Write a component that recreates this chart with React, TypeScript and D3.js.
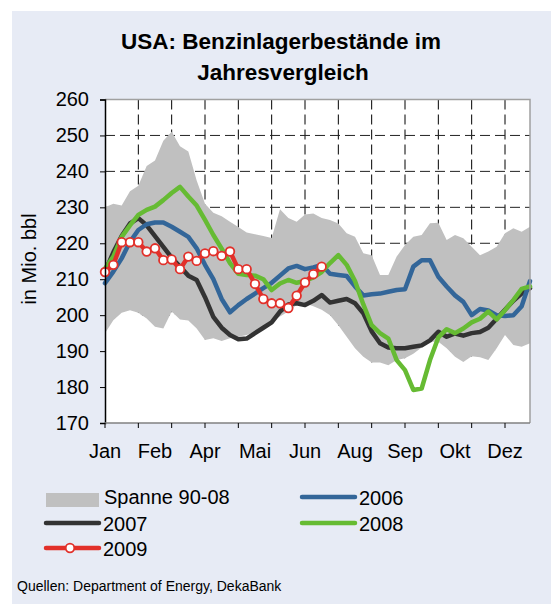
import { useEffect, useRef } from "react";
import * as d3 from "d3";

const W = 551;
const H = 604;

// weekly points, 52 per year
const MONTHS = ["Jan", "Feb", "Apr", "Mai", "Jun", "Aug", "Sep", "Okt", "Dez"];
const Y_TICKS = [170, 180, 190, 200, 210, 220, 230, 240, 250, 260];

const RANGE_LOW = [
  195, 198.6, 200.7, 201.4, 200.7, 199.1, 196.8, 196.3, 201, 198.8, 198.5, 196.3, 193.1, 193.6, 192.8, 193.6,
  194, 194.5, 195.4, 196.8, 198.2, 199.6, 201, 202.8, 203.3, 202.5, 201.5, 200, 197.2, 194, 190.8, 188.4,
  186.8, 186.8, 186.1, 187.5, 188, 189.3, 191, 192.6, 192.6, 190.8, 188.4, 187, 188.6, 188.3, 187.5, 190.8,
  194.5, 191.7, 191.2, 192.2,
];
const RANGE_HIGH = [
  230, 231, 230.5, 234.5, 236, 241.5, 243, 248.5, 251, 247, 245.5, 237.5, 231, 228.5, 227.5, 226,
  224.5, 223, 222.5, 222, 221.5, 229.5, 227, 226, 228, 228.3, 227, 226.5, 225.5, 222.8, 221.8, 217.2,
  216.7, 211.2, 211.2, 216.3, 219.5, 221.8, 222.3, 225.6, 225.7, 220.9, 222.3, 221.4, 219, 216.7, 217.7, 219,
  222.8, 224.2, 223.2, 224.6,
];
const S2006 = [
  208.9, 212.1, 215.8, 220.4, 223.7, 225.3, 225.8, 225.8, 224.6, 223.2, 221.8, 218.6, 214, 210, 204.5, 200.8,
  202.8, 204.5, 206, 207.5, 209, 211, 213, 213.7, 212.8, 213.3, 214, 211.5, 211.2, 210.9, 208, 205.5,
  205.8, 206, 206.5, 207, 207.2, 213.5, 215.3, 215.3, 210.7, 208, 205.5, 203.7, 200, 201.7, 201.3, 200,
  199.8, 200, 202.5, 209.5,
];
const S2007 = [
  212, 217.5, 222, 225.5, 227, 225, 222, 219, 216, 213.5, 211, 209.8, 205, 199.5, 196.5, 194.5,
  193.3, 193.5, 195, 196.5, 198, 201, 203, 203.3, 202.8, 204, 205.6, 203.5, 204, 204.5, 203.3, 200.5,
  195.5, 192.2, 191, 190.8, 190.8, 191.2, 191.6, 193, 195.4, 194, 194.9, 194.3, 195, 195.3, 196.5, 199,
  201.5, 204, 206, 207.5,
];
const S2008 = [
  213, 216.3, 221.8, 225, 227.9, 229.3, 230.2, 232, 234, 235.7, 233, 230.5, 226.5, 222.3, 218.5, 214.5,
  211.5, 211.2, 211, 210, 207, 208.8, 209.8, 209, 209.5, 210.5, 212, 214.5, 216.7, 214, 209.5, 203,
  197.2, 195, 193.5, 187.5, 184.7, 179.2, 179.6, 187.5, 193.8, 196.1, 195, 196.3, 198, 199, 201, 198.8,
  201.4, 204.2, 207.3, 208,
];
const S2009 = [
  212, 214, 220.3, 220.3, 220.3, 217.7, 218.6, 215.3, 215.5, 212.8, 216.3, 215.1, 217.2, 217.8, 216.5, 217.7,
  212.8, 212.8, 208.7, 204.5, 203.3, 203.3, 202, 205.4, 209.1, 211.4, 213.5,
];

const C = {
  bg: "#E7EBF5",
  band: "#C0C0C0",
  y2006: "#336699",
  y2007: "#333333",
  y2008: "#66BB33",
  y2009: "#E2302A",
};

const FONT = "'Liberation Sans', Arial, sans-serif";

export default function App() {
  const ref = useRef<SVGSVGElement | null>(null);

  useEffect(() => {
    const svg = d3.select(ref.current);
    svg.selectAll("*").remove();

    const m = { left: 105, right: 530, top: 99.5, bottom: 423 };
    const n = RANGE_LOW.length;
    const x = d3.scaleLinear().domain([0, n - 1]).range([m.left, m.right]);
    const y = d3.scaleLinear().domain([170, 260]).range([m.bottom, m.top]);

    svg.append("rect").attr("x", 12).attr("y", 11).attr("width", W - 12).attr("height", H - 11).attr("fill", C.bg);

    // title
    const title = svg.append("text").attr("font-family", FONT).attr("font-weight", "bold").attr("font-size", 22.5)
      .attr("text-anchor", "middle").attr("fill", "#000");
    title.append("tspan").attr("x", 281).attr("y", 49).text("USA: Benzinlagerbestände im");
    title.append("tspan").attr("x", 283).attr("y", 80).text("Jahresvergleich");

    const g = svg.append("g");
    g.append("rect").attr("x", m.left).attr("y", m.top).attr("width", m.right - m.left).attr("height", m.bottom - m.top).attr("fill", "#fff");

    // grid
    const xTicks = d3.range(0, n - 1, 4);
    g.append("g").selectAll("line").data(xTicks.slice(1)).join("line")
      .attr("x1", (d) => x(d)).attr("x2", (d) => x(d)).attr("y1", m.top).attr("y2", m.bottom)
      .attr("stroke", "#000").attr("stroke-width", 1).attr("stroke-dasharray", "10 5");
    g.append("g").selectAll("line").data(Y_TICKS.slice(1, -1)).join("line")
      .attr("x1", m.left).attr("x2", m.right).attr("y1", (d) => y(d)).attr("y2", (d) => y(d))
      .attr("stroke", "#222").attr("stroke-width", 1).attr("stroke-dasharray", "10 5");

    // range band: white below, grey between
    const idx = d3.range(n);
    g.append("path")
      .attr("d", d3.area<number>().x((i) => x(i)).y0(y(170)).y1((i) => y(RANGE_LOW[i]))(idx)!)
      .attr("fill", "#fff");
    g.append("path")
      .attr("d", d3.area<number>().x((i) => x(i)).y0((i) => y(RANGE_LOW[i])).y1((i) => y(RANGE_HIGH[i]))(idx)!)
      .attr("fill", C.band);

    const line = d3.line<number>().x((_, i) => x(i)).y((v) => y(v));
    const series: [number[], string][] = [
      [S2007, C.y2007],
      [S2006, C.y2006],
      [S2008, C.y2008],
      [S2009, C.y2009],
    ];
    series.forEach(([vals, color]) => {
      g.append("path").attr("d", line(vals)!).attr("fill", "none").attr("stroke", color)
        .attr("stroke-width", 4.5).attr("stroke-linejoin", "round").attr("stroke-linecap", "round");
    });
    g.append("g").selectAll("circle").data(S2009).join("circle")
      .attr("cx", (_, i) => x(i)).attr("cy", (v) => y(v)).attr("r", 4.3)
      .attr("fill", "#fff").attr("stroke", C.y2009).attr("stroke-width", 1.8);

    // frame
    g.append("path").attr("d", `M${m.left},${m.top}H${m.right}V${m.bottom}`).attr("fill", "none").attr("stroke", "#A0A0A0").attr("stroke-width", 1.5);

    // axes
    const yAxis = g.append("g").attr("transform", `translate(${m.left},0)`)
      .call(d3.axisLeft(y).tickValues(Y_TICKS).tickSize(5).tickPadding(11).tickFormat(d3.format("d") as never));
    yAxis.select(".domain").attr("stroke", "#000").attr("stroke-width", 1.5);
    yAxis.selectAll("line").attr("stroke", "#000");
    yAxis.selectAll("text").attr("font-family", FONT).attr("font-size", 20).attr("fill", "#000");

    const xAxis = g.append("g").attr("transform", `translate(0,${m.bottom})`);
    xAxis.append("line").attr("x1", m.left).attr("x2", m.right).attr("stroke", "#808080").attr("stroke-width", 1.5);
    xAxis.selectAll("line.tick").data(xTicks).join("line").attr("class", "tick")
      .attr("x1", (d) => x(d)).attr("x2", (d) => x(d)).attr("y1", 0).attr("y2", 5).attr("stroke", "#000");
    xAxis.selectAll("text").data(MONTHS).join("text")
      .attr("x", (_, i) => x(i * 6)).attr("y", 35).attr("text-anchor", "middle")
      .attr("font-family", FONT).attr("font-size", 20).attr("fill", "#000").text((d) => d);

    svg.append("text").attr("transform", "translate(36,259) rotate(-90)").attr("text-anchor", "middle")
      .attr("font-family", FONT).attr("font-size", 20).attr("fill", "#000").text("in Mio. bbl");

    // legend
    const lg = svg.append("g").attr("font-family", FONT).attr("font-size", 20).attr("fill", "#000");
    lg.append("rect").attr("x", 46).attr("y", 493).attr("width", 53).attr("height", 14).attr("fill", C.band);
    lg.append("text").attr("x", 104).attr("y", 504).text("Spanne 90-08");
    const items: [string, string, number, number][] = [
      ["2006", C.y2006, 302, 497],
      ["2007", C.y2007, 46, 523],
      ["2008", C.y2008, 302, 523],
      ["2009", C.y2009, 46, 548],
    ];
    items.forEach(([label, color, lx, ly]) => {
      lg.append("line").attr("x1", lx).attr("x2", lx + 53).attr("y1", ly).attr("y2", ly)
        .attr("stroke", color).attr("stroke-width", 4.5).attr("stroke-linecap", "round");
      lg.append("text").attr("x", lx + 57).attr("y", ly + 8).text(label);
    });
    lg.append("circle").attr("cx", 70).attr("cy", 548).attr("r", 4.3).attr("fill", "#fff").attr("stroke", C.y2009).attr("stroke-width", 1.8);

    svg.append("text").attr("x", 17).attr("y", 591).attr("font-family", FONT).attr("font-size", 14).attr("fill", "#000")
      .text("Quellen: Department of Energy, DekaBank");
  }, []);

  return <svg ref={ref} width={W} height={H} style={{ position: "absolute", left: 0, top: 0, background: "#fff" }} />;
}
